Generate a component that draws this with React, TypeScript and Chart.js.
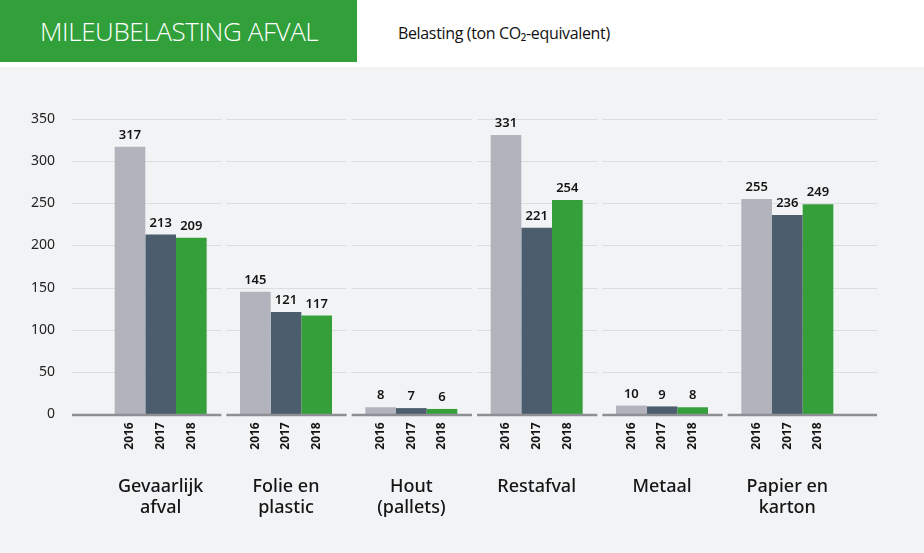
import React, { useEffect, useRef } from "react";
import { Chart, registerables } from "chart.js";

Chart.register(...registerables);

const categories: string[][] = [
  ["Gevaarlijk", "afval"],
  ["Folie en", "plastic"],
  ["Hout", "(pallets)"],
  ["Restafval"],
  ["Metaal"],
  ["Papier en", "karton"],
];
const years = ["2016", "2017", "2018"];
const values2016 = [317, 145, 8, 331, 10, 255];
const values2017 = [213, 121, 7, 221, 9, 236];
const values2018 = [209, 117, 6, 254, 8, 249];
const yMax = 350;
const yStep = 50;

const colors = ["#b2b3bc", "#4c5e6e", "#35a03a"];
const FONT = "'Noto Sans', sans-serif";

const decorPlugin = {
  id: "decor",
  beforeDatasetsDraw(chart: any) {
    const { ctx, chartArea, scales } = chart;
    const x = scales.x;
    const y = scales.y;
    const n = categories.length;
    const cw = (chartArea.right - chartArea.left) / n;
    ctx.save();
    for (let v = yStep; v <= yMax; v += yStep) {
      const py = Math.round(y.getPixelForValue(v)) + 0.5;
      ctx.strokeStyle = "#dcdde0";
      ctx.lineWidth = 1.2;
      for (let i = 0; i < n; i++) {
        const c = x.getPixelForValue(i);
        let l = c - cw / 2 + 3;
        let r = c + cw / 2 - 2;
        if (i === 0) l = chartArea.left - 26;
        if (i === n - 1) r = chartArea.right + 27;
        ctx.beginPath();
        ctx.moveTo(l, py);
        ctx.lineTo(r, py);
        ctx.stroke();
      }
    }
    ctx.restore();
  },
  afterDatasetsDraw(chart: any) {
    const { ctx, chartArea, scales } = chart;
    const x = scales.x;
    const y = scales.y;
    const n = categories.length;
    const cw = (chartArea.right - chartArea.left) / n;
    ctx.save();
    const py0 = y.getPixelForValue(0) + 1;
    ctx.strokeStyle = "#8d8f94";
    ctx.lineWidth = 2.5;
    for (let i = 0; i < n; i++) {
      const c = x.getPixelForValue(i);
      let l = c - cw / 2 + 3;
      let r = c + cw / 2 - 2;
      if (i === 0) l = chartArea.left - 26;
      if (i === n - 1) r = chartArea.right + 27;
      ctx.beginPath();
      ctx.moveTo(l, py0);
      ctx.lineTo(r, py0);
      ctx.stroke();
    }
    // value labels and year labels
    chart.data.datasets.forEach((ds: any, di: number) => {
      const meta = chart.getDatasetMeta(di);
      meta.data.forEach((bar: any, i: number) => {
        ctx.fillStyle = "#151515";
        ctx.font = `600 13px ${FONT}`;
        ctx.textAlign = "center";
        ctx.textBaseline = "bottom";
        ctx.fillText(String(ds.data[i]), bar.x, bar.y - 5);
        // year label rotated
        ctx.save();
        ctx.translate(bar.x, py0 + 21);
        ctx.rotate(-Math.PI / 2);
        ctx.font = `700 12px ${FONT}`;
        ctx.textAlign = "center";
        ctx.textBaseline = "middle";
        ctx.fillText(years[di], 0, 0);
        ctx.restore();
      });
    });
    // category labels
    ctx.fillStyle = "#151515";
    ctx.font = `500 18px ${FONT}`;
    ctx.textAlign = "center";
    ctx.textBaseline = "middle";
    categories.forEach((lines, i) => {
      const c = x.getPixelForValue(i);
      lines.forEach((t, li) => {
        ctx.fillText(t, c, py0 + 72 + li * 21);
      });
    });
    ctx.restore();
  },
};

export default function App() {
  const ref = useRef<HTMLCanvasElement | null>(null);
  useEffect(() => {
    document.body.style.margin = "0";
    if (!ref.current) return;
    const chart = new Chart(ref.current, {
      type: "bar",
      data: {
        labels: categories.map((c) => c.join(" ")),
        datasets: [
          { label: years[0], data: values2016, backgroundColor: colors[0] },
          { label: years[1], data: values2017, backgroundColor: colors[1] },
          { label: years[2], data: values2018, backgroundColor: colors[2] },
        ],
      },
      options: {
        responsive: false,
        animation: false,
        layout: { padding: { top: 52, bottom: 139, left: 0, right: 74 } },
        datasets: {
          bar: { categoryPercentage: 0.734, barPercentage: 1.0 },
        },
        plugins: {
          legend: { display: false },
          tooltip: { enabled: false },
        },
        scales: {
          x: { display: false },
          y: {
            min: 0,
            max: yMax,
            grid: { display: false },
            border: { display: false },
            afterFit: (s: any) => {
              s.width = 98;
            },
            ticks: {
              stepSize: yStep,
              padding: 35,
              color: "#222",
              font: { family: FONT, size: 14 },
            },
          },
        },
      },
      plugins: [decorPlugin],
    });
    return () => chart.destroy();
  }, []);

  return (
    <div
      style={{
        position: "absolute",
        left: 0,
        top: 0,
        width: 924,
        height: 553,
        background: "#ffffff",
        overflow: "hidden",
      }}
    >
      <div
        style={{
          position: "absolute",
          left: 0,
          top: 0,
          width: 357,
          height: 62,
          background: "#31a03a",
        }}
      >
        <div
          style={{
            position: "absolute",
            left: 40,
            top: 0,
            height: 62,
            lineHeight: "62px",
            color: "#ffffff",
            fontFamily: "'Open Sans', sans-serif",
            fontWeight: 300,
            fontSize: 26,
            letterSpacing: -0.4,
            whiteSpace: "nowrap",
          }}
        >
          MILEUBELASTING AFVAL
        </div>
      </div>
      <div
        style={{
          position: "absolute",
          left: 398,
          top: 0,
          height: 66,
          lineHeight: "66px",
          color: "#111",
          fontFamily: "'Open Sans', sans-serif",
          fontSize: 16,
          letterSpacing: -0.35,
          whiteSpace: "nowrap",
        }}
      >
        Belasting (ton CO₂-equivalent)
      </div>
      <div
        style={{
          position: "absolute",
          left: 0,
          top: 67,
          width: 924,
          height: 486,
          background: "#f2f3f5",
        }}
      >
        <canvas ref={ref} width={924} height={486} style={{ display: "block" }} />
      </div>
    </div>
  );
}
